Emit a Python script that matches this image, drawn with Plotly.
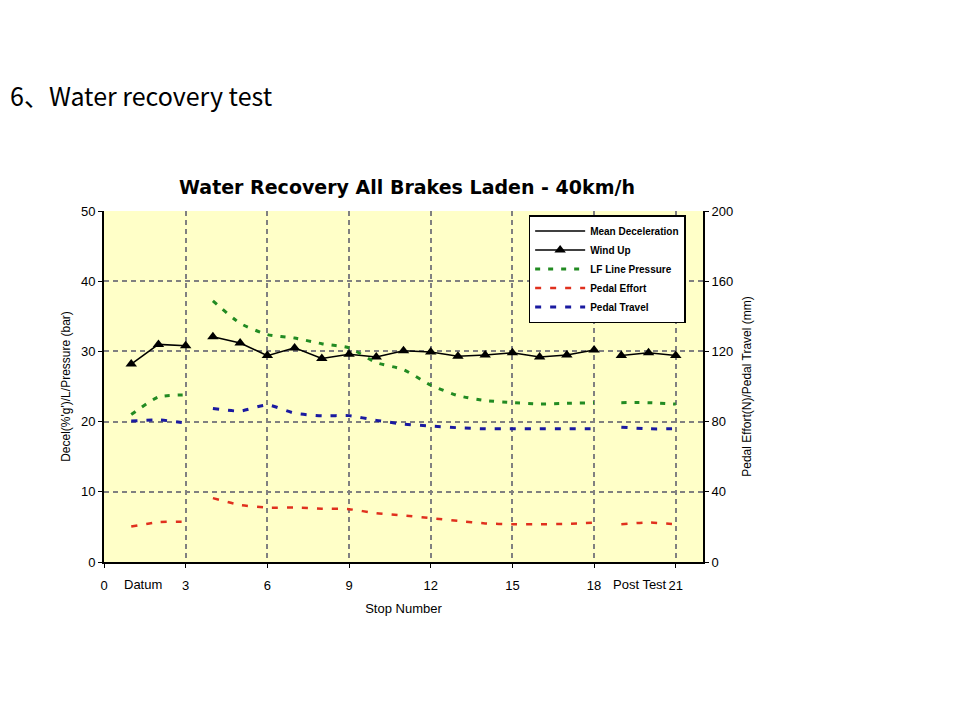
import plotly.graph_objects as go

# ---------------- data ----------------
stops = list(range(1, 22))
wind_up = [28.2, 31.0, 30.8, 32.1, 31.2, 29.4, 30.5, 29.0, 29.6, 29.2, 30.1,
           29.9, 29.3, 29.5, 29.8, 29.2, 29.5, 30.2, 29.4, 29.8, 29.4]
lf_line_pressure = [21.0, 23.5, 23.8, 37.2, 34.0, 32.4, 31.9, 31.1, 30.5, 28.4, 27.4,
                    25.2, 23.7, 23.0, 22.7, 22.5, 22.6, 22.7, 22.7, 22.7, 22.5]
pedal_effort = [20.2, 22.7, 23.0, 36.4, 32.5, 31.0, 31.0, 30.4, 30.1, 27.8, 26.5,
                25.0, 23.4, 22.0, 21.5, 21.5, 21.7, 22.4, 21.5, 22.5, 21.5]
pedal_travel = [80.3, 81.0, 79.2, 87.5, 86.0, 89.5, 84.8, 83.3, 83.4, 80.7, 78.6,
                77.5, 76.5, 75.9, 75.9, 75.9, 75.9, 75.9, 76.8, 75.9, 75.9]
segment_ends = [3, 18]          # Datum | Test | Post Test
x_tickvals = [0, 3, 6, 9, 12, 15, 18, 21]
x_ticktext = ["0", "3", "6", "9", "12", "15", "18", "21"]
phase_labels = ["Datum", "Post Test"]
phase_label_pos = [1.45, 19.7]
left_ticks = [0, 10, 20, 30, 40, 50]
right_ticks = [0, 40, 80, 120, 160, 200]


def with_gaps(xs, ys):
    gx, gy = [], []
    for x, y in zip(xs, ys):
        gx.append(x)
        gy.append(y)
        if x in segment_ends:
            gx.append(None)
            gy.append(None)
    return gx, gy


FONT = "Liberation Sans, Arial, sans-serif"
# page body has an 8px margin: figure origin sits at (8, 8) in the window
OFF = 8
W, H = 952, 712
L, T = 104 - OFF, 211 - OFF
R = W - (703.5 - OFF)
B = H - (562 - OFF)
PW, PH = W - L - R, H - T - B

fig = go.Figure()

fig.add_trace(go.Scatter(x=[None], y=[None], mode="lines", name="Mean Deceleration",
                         line=dict(color="black", width=1.5)))
gx, gy = with_gaps(stops, wind_up)
fig.add_trace(go.Scatter(x=gx, y=gy, mode="lines+markers", name="Wind Up",
                         line=dict(color="black", width=1.5),
                         marker=dict(symbol="triangle-up", size=10, color="black")))
gx, gy = with_gaps(stops, lf_line_pressure)
fig.add_trace(go.Scatter(x=gx, y=gy, mode="lines", name="LF Line Pressure",
                         line=dict(color="#228b22", width=3, dash="5px,8px", shape="spline",
                                   smoothing=0.6)))
gx, gy = with_gaps(stops, pedal_effort)
fig.add_trace(go.Scatter(x=gx, y=gy, mode="lines", name="Pedal Effort", yaxis="y2",
                         line=dict(color="#e0301e", width=2.5, dash="6px,9px", shape="spline",
                                   smoothing=0.6)))
gx, gy = with_gaps(stops, pedal_travel)
fig.add_trace(go.Scatter(x=gx, y=gy, mode="lines", name="Pedal Travel", yaxis="y2",
                         line=dict(color="#1a1aa0", width=3, dash="6px,9px", shape="spline",
                                   smoothing=0.6)))

fig.update_layout(
    width=W, height=H,
    paper_bgcolor="white", plot_bgcolor="#FFFFC8",
    margin=dict(l=L, r=R, t=T, b=B, pad=0),
    showlegend=True,
    font=dict(family=FONT, size=12, color="black"),
    title=dict(text="<b>Water Recovery All Brakes Laden - 40km/h</b>",
               x=(407 - OFF) / W, xanchor="center", y=1 - (187 - OFF) / H, yanchor="middle",
               font=dict(family="DejaVu Sans, sans-serif", size=19, color="black")),
    legend=dict(x=(529 - 104) / PW, y=(562 - 215) / PH, xanchor="left", yanchor="top",
                bgcolor="white", bordercolor="black", borderwidth=1.5,
                font=dict(family=FONT, size=10, color="black", weight="bold"),
                itemwidth=50, tracegroupgap=0),
    xaxis=dict(range=[0, 22], tickvals=x_tickvals, ticktext=x_ticktext,
               showline=True, linecolor="black", linewidth=2, mirror=False,
               ticks="outside", ticklen=4, tickcolor="black", ticklabelstandoff=6,
               showgrid=True, gridcolor="#808080", griddash="5px,4px", gridwidth=1.5,
               zeroline=False, tickfont=dict(size=13),
               title=dict(text="Stop Number", font=dict(size=13), standoff=12)),
    yaxis=dict(range=[0, 50], tickvals=left_ticks,
               showline=True, linecolor="black", linewidth=2,
               ticks="outside", ticklen=4, tickcolor="black",
               showgrid=True, gridcolor="#808080", griddash="5px,4px", gridwidth=1.5,
               zeroline=False, tickfont=dict(size=13),
               title=dict(text="Decel(%'g')/L/Pressure (bar)", font=dict(size=12), standoff=8)),
    yaxis2=dict(range=[0, 200], tickvals=right_ticks, overlaying="y", side="right",
                showline=True, linecolor="black", linewidth=2,
                ticks="outside", ticklen=4, tickcolor="black",
                showgrid=False, zeroline=False, tickfont=dict(size=13),
                title=dict(text="Pedal Effort(N)/Pedal Travel (mm)", font=dict(size=12), standoff=10)),
)

for lbl, pos in zip(phase_labels, phase_label_pos):
    fig.add_annotation(text=lbl, x=pos, xref="x", y=-(584 - 562) / PH, yref="paper",
                       yanchor="middle", showarrow=False, font=dict(size=13))

fig.add_annotation(text="6、Water recovery test",
                   x=(8 - 104) / PW, y=(562 - 95) / PH,
                   xref="paper", yref="paper", xanchor="left", yanchor="middle",
                   showarrow=False,
                   font=dict(family="Noto Sans CJK SC, sans-serif", size=25, color="black"))

fig.write_html("out.html")
